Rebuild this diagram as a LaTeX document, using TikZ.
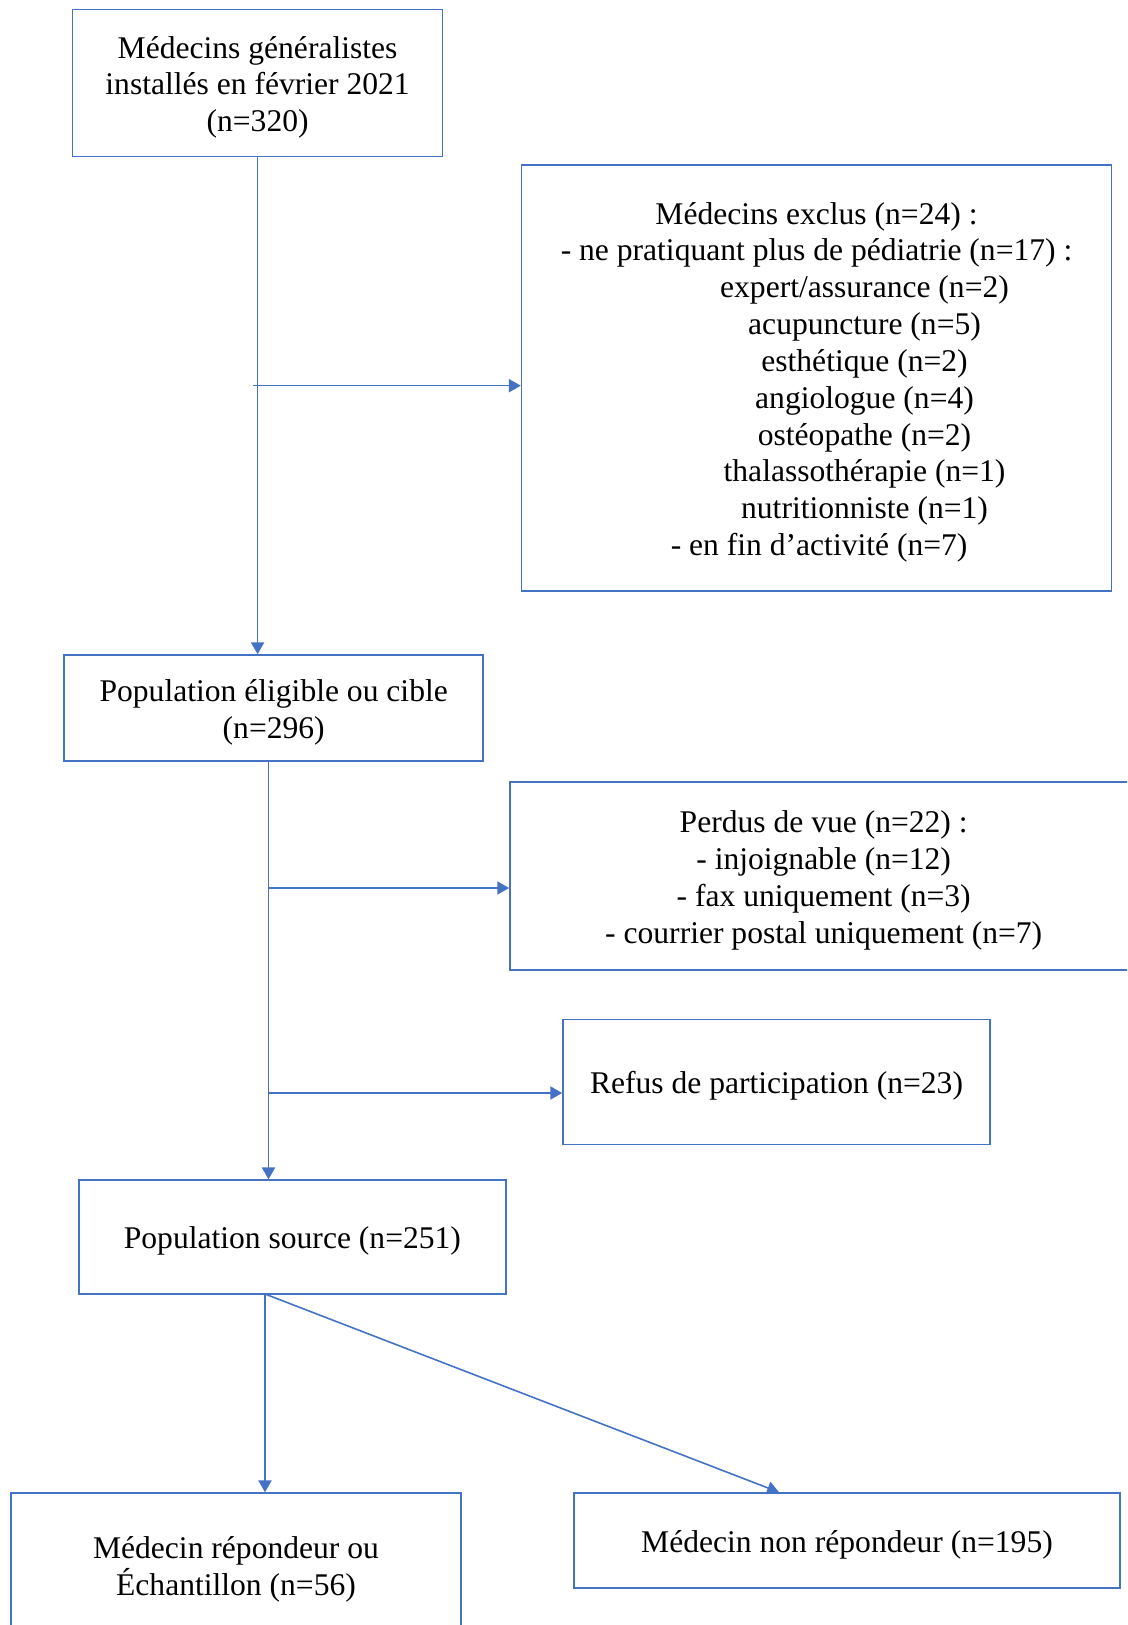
\documentclass[tikz,border=0pt]{standalone}
\usepackage{fontspec}
\setmainfont{Liberation Serif}
\usepackage{tikz}
\usetikzlibrary{arrows.meta, positioning}
\definecolor{bleuword}{RGB}{68,114,196}
\newcommand{\haut}{\rule{0pt}{11.6pt}}
\newcommand{\bas}{\rule[-2.6pt]{0pt}{0pt}}
\tikzstyle{boite}=[rectangle, draw=bleuword, line width=0.6pt, align=center, inner sep=0pt,
  font=\fontsize{12}{14}\selectfont]
\tikzstyle{fleche}=[draw=bleuword, line width=0.6pt, -{Triangle[length=4.5pt, width=5pt]}]

\begin{document}
\begin{tikzpicture}[x=0.38pt, y=-0.38pt]
  \clip (0,0) rectangle (1127,1625);
  \fill[white] (0,0) rectangle (1127,1625);

  \node[boite, minimum width=140.6pt, minimum height=55.9pt] (med) at (257.6,83)
        {\haut Médecins généralistes\\installés en février 2021\\(n=320)\bas};
  \node[boite, minimum width=224.2pt, minimum height=161.9pt] (excl) at (816.5,378)
        {\haut Médecins exclus (n=24) :\\
         - ne pratiquant plus de pédiatrie (n=17) :\\
         \hspace*{36.5pt}expert/assurance (n=2)\\
         \hspace*{36.5pt}acupuncture (n=5)\\
         \hspace*{36.5pt}esthétique (n=2)\\
         \hspace*{36.5pt}angiologue (n=4)\\
         \hspace*{36.5pt}ostéopathe (n=2)\\
         \hspace*{36.5pt}thalassothérapie (n=1)\\
         \hspace*{36.5pt}nutritionniste (n=1)\\
         \hspace*{2pt}- en fin d’activité (n=7)\bas};
  \node[boite, minimum width=159.2pt, minimum height=40.3pt] (pop) at (273.7,708)
        {\haut Population éligible ou cible\\(n=296)\bas};
  \node[boite, minimum width=238.5pt, minimum height=71.4pt] (perdus) at (823.7,876)
        {\haut Perdus de vue (n=22) :\\- injoignable (n=12)\\- fax uniquement (n=3)\\- courrier postal uniquement (n=7)\bas};
  \node[boite, minimum width=162.3pt, minimum height=47.5pt] (refus) at (776.5,1082)
        {\haut Refus de participation (n=23)\bas};
  \node[boite, minimum width=162.3pt, minimum height=43.3pt] (src) at (292.4,1237)
        {\haut Population source (n=251)\bas};
  \node[boite, minimum width=171pt, minimum height=54.7pt] (rep) at (236,1565)
        {\haut Médecin répondeur ou\\Échantillon (n=56)\bas};
  \node[boite, minimum width=207.5pt, minimum height=36.1pt] (nonrep) at (847,1540.5)
        {\haut Médecin non répondeur (n=195)\bas};

  % points de branchement
  \coordinate (j1) at (253,385.7);
  \coordinate (j2) at (268.5,888);
  \coordinate (j3) at (268.5,1093);
  \coordinate (s0) at (265,1294);
  \coordinate (s1) at (779,1493);

  \draw[fleche] (med.south) -- (med.south |- pop.north);
  \draw[fleche] (j1) -- (j1 -| excl.west);
  \draw[fleche] (pop.south -| j2) -- (j2 |- src.north);
  \draw[fleche] (j2) -- (j2 -| perdus.west);
  \draw[fleche] (j3) -- (j3 -| refus.west);
  \draw[fleche] (s0) -- (s0 |- rep.north);
  \draw[fleche] (s0) -- (s1 |- nonrep.north);
\end{tikzpicture}
\end{document}
